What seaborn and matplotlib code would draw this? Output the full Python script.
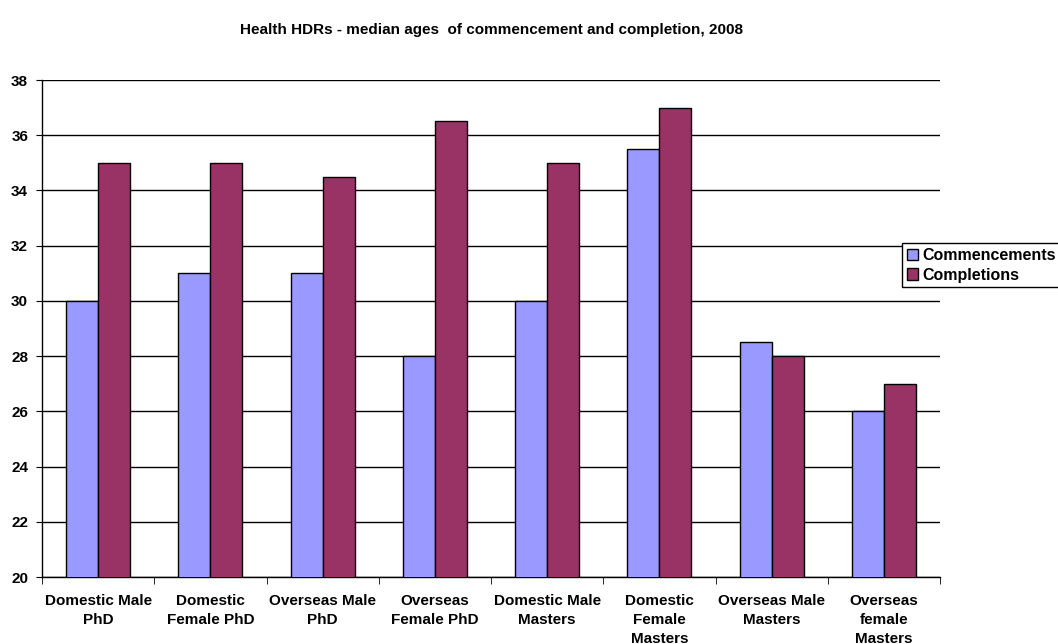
import numpy as np
import pandas as pd
import matplotlib
matplotlib.use("Agg")
import matplotlib.pyplot as plt
import seaborn as sns

categories = ["Domestic Male\nPhD", "Domestic\nFemale PhD", "Overseas Male\nPhD",
              "Overseas\nFemale PhD", "Domestic Male\nMasters", "Domestic\nFemale\nMasters",
              "Overseas Male\nMasters", "Overseas\nfemale\nMasters"]
commencements = [30, 31, 31, 28, 30, 35.5, 28.5, 26]
completions = [35, 35, 34.5, 36.5, 35, 37, 28, 27]
series = ["Commencements", "Completions"]
colors = ["#9999FF", "#993366"]

df = pd.DataFrame({
    "category": categories * 2,
    "age": commencements + completions,
    "series": [series[0]] * len(categories) + [series[1]] * len(categories),
})

sns.set_style("white")
plt.rcParams["font.family"] = ["Liberation Sans", "DejaVu Sans"]
plt.rcParams["font.weight"] = "bold"
plt.rcParams["text.color"] = "black"
plt.rcParams["xtick.color"] = "black"
plt.rcParams["ytick.color"] = "black"

fig = plt.figure(figsize=(10.58, 6.44), dpi=100)
ax = fig.add_axes([42 / 1058, 1 - 577 / 644, (940 - 42) / 1058, (577 - 80) / 644])

sns.barplot(data=df, x="category", y="age", hue="series", order=categories,
            hue_order=series, palette=colors, saturation=1, width=0.57, gap=0,
            edgecolor="black", linewidth=1, ax=ax, zorder=3)

ax.set_ylim(20, 38)
ax.set_xlim(-0.5, len(categories) - 0.5)
ax.set_yticks(np.arange(20, 39, 2))
ax.yaxis.grid(True, color="black", linewidth=1, zorder=0)
ax.set_axisbelow(True)
ax.set_xlabel("")
ax.set_ylabel("")
for s in ["top", "right"]:
    ax.spines[s].set_visible(False)
for s in ["left", "bottom"]:
    ax.spines[s].set_color("black")
    ax.spines[s].set_linewidth(1)

ax.tick_params(axis="x", which="major", length=0, pad=12, labelsize=11, labelcolor="black")
ax.set_xticks(np.arange(-0.5, len(categories), 1), minor=True)
ax.tick_params(axis="x", which="minor", length=5, direction="out", color="black", bottom=True)
ax.tick_params(axis="y", length=4, pad=6, direction="out", color="black", left=True,
               labelsize=11, labelcolor="black")
for lbl in ax.get_xticklabels() + ax.get_yticklabels():
    lbl.set_fontweight("bold")
for lbl in ax.get_xticklabels():
    lbl.set_linespacing(1.45)

fig.text(491 / 1058, 1 - 30 / 644, "Health HDRs - median ages  of commencement and completion, 2008",
         ha="center", va="center", fontsize=11, fontweight="bold", color="black")

handles, labels = ax.get_legend_handles_labels()
ax.legend_.remove()
leg = fig.legend(handles, labels, loc="upper left",
                 bbox_to_anchor=(902 / 1058, 1 - 243 / 644), borderaxespad=0,
                 fancybox=False, edgecolor="black", framealpha=1,
                 handlelength=0.7, handleheight=0.7, handletextpad=0.3,
                 borderpad=0.3, labelspacing=0.3, prop={"size": 11.5, "weight": "bold"})
leg.get_frame().set_linewidth(1)
for t in leg.get_texts():
    t.set_color("black")

fig.savefig("out.png", dpi=100)
